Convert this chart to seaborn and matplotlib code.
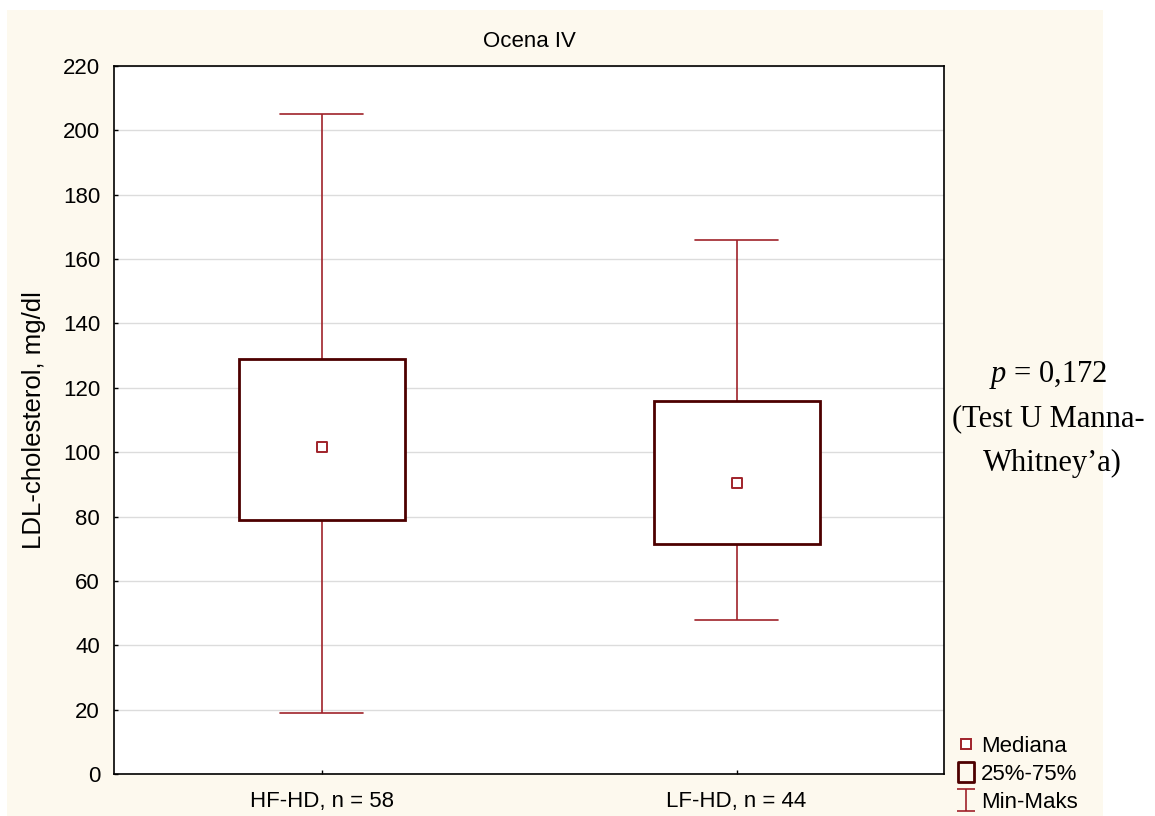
import numpy as np
import pandas as pd
import matplotlib
matplotlib.use("Agg")
import matplotlib.pyplot as plt
from matplotlib.lines import Line2D
from matplotlib.patches import Rectangle
from matplotlib.path import Path
import seaborn as sns

# Summary statistics of LDL-cholesterol per group
groups = ["HF-HD, n = 58", "LF-HD, n = 44"]
mins = [19.0, 48.0]
q1s = [79.0, 71.5]
medians = [101.5, 90.5]
q3s = [129.0, 116.0]
maxs = [205.0, 166.0]
yticks = [0, 20, 40, 60, 80, 100, 120, 140, 160, 180, 200, 220]

# Five values per group: with whis=(0, 100) the whiskers reach min/max and
# the quartiles of these five points are exactly q1 / median / q3.
rows = []
for g, a, b, c, d, e in zip(groups, mins, q1s, medians, q3s, maxs):
    for v in (a, b, c, d, e):
        rows.append({"group": g, "ldl": v})
df = pd.DataFrame(rows)

sns.set_style("ticks")
plt.rcParams["font.family"] = ["Liberation Sans", "DejaVu Sans"]
plt.rcParams["text.color"] = "black"
plt.rcParams["axes.labelcolor"] = "black"
plt.rcParams["mathtext.fontset"] = "custom"
plt.rcParams["mathtext.rm"] = "Liberation Serif"
plt.rcParams["mathtext.it"] = "Liberation Serif:italic"

box_edge = "#4d0000"
whisk_col = "#a0222a"
cream = "#fdf9ee"

fig = plt.figure(figsize=(11.55, 8.16), dpi=100)
fig.patch.set_facecolor("white")
fig.patches.append(Rectangle((7 / 1155, 0), 1096 / 1155, 806 / 816,
                             transform=fig.transFigure, facecolor=cream,
                             edgecolor="none", zorder=-10))

ax = fig.add_axes([114 / 1155, 42 / 816, 830 / 1155, 708 / 816])
ax.set_facecolor("white")

sns.boxplot(data=df, x="group", y="ldl", ax=ax, order=groups,
            whis=(0, 100), width=0.4, color="white", fliersize=0,
            boxprops=dict(edgecolor=box_edge, linewidth=2.0, zorder=3),
            whiskerprops=dict(color=whisk_col, linewidth=1.2, zorder=2),
            capprops=dict(color=whisk_col, linewidth=1.2, zorder=2),
            medianprops=dict(visible=False))

sns.scatterplot(x=groups, y=medians, ax=ax, marker="s", s=55,
                facecolor="white", edgecolor=whisk_col, linewidth=1.4,
                zorder=5, legend=False)

ax.set_xlim(-0.5, 1.5)
ax.set_ylim(0, 220)
ax.set_yticks(yticks)
ax.yaxis.grid(True, color="#dcdcdc", linewidth=1.0)
ax.set_axisbelow(True)
ax.tick_params(axis="both", direction="in", length=3, width=1.0,
               labelsize=16, colors="black", pad=10)
ax.tick_params(axis="x", pad=12)
for sp in ax.spines.values():
    sp.set_visible(True)
    sp.set_color("black")
    sp.set_linewidth(1.2)

ax.set_xlabel("")
ax.set_ylabel("LDL-cholesterol, mg/dl", fontsize=18.5, labelpad=12,
              color="black")
ax.set_title("Ocena IV", fontsize=16, pad=14, color="black")

# Test result annotation
serif = ["Liberation Serif", "DejaVu Serif"]
fig.text(1048 / 1155, 1 - 375 / 816, r"$p$ = 0,172", ha="center", va="center",
         fontsize=22, family=serif, color="black")
fig.text(1048 / 1155, 1 - 419 / 816, "(Test U Manna-", ha="center",
         va="center", fontsize=22, family=serif, color="black")
fig.text(1052 / 1155, 1 - 463 / 816, "Whitney\u2019a)", ha="center",
         va="center", fontsize=22, family=serif, color="black")

# Legend glyphs
i_path = Path([(-0.8, -1), (0.8, -1), (0, -1), (0, 1), (-0.8, 1), (0.8, 1)],
              [Path.MOVETO, Path.LINETO, Path.MOVETO, Path.LINETO,
               Path.MOVETO, Path.LINETO])
rect_path = Path([(-0.75, -1), (0.75, -1), (0.75, 1), (-0.75, 1), (-0.75, -1)],
                 [Path.MOVETO, Path.LINETO, Path.LINETO, Path.LINETO,
                  Path.CLOSEPOLY])
handles = [
    Line2D([], [], ls="none", marker="s", ms=7, mfc="white",
           mec=whisk_col, mew=1.4),
    Line2D([], [], ls="none", marker=rect_path, ms=15, mfc="none",
           mec=box_edge, mew=2.0),
    Line2D([], [], ls="none", marker=i_path, ms=16, mfc="none",
           mec=whisk_col, mew=1.2),
]
labels = ["Mediana", "25%-75%", "Min-Maks"]
leg = fig.legend(handles, labels, loc="lower left",
                 bbox_to_anchor=(950 / 1155, -1 / 816), frameon=False,
                 fontsize=16, handlelength=1.0, handletextpad=0.2,
                 labelspacing=0.3, borderpad=0.2, borderaxespad=0)
for t in leg.get_texts():
    t.set_color("black")

fig.savefig("out.png", dpi=100, facecolor=fig.get_facecolor())
